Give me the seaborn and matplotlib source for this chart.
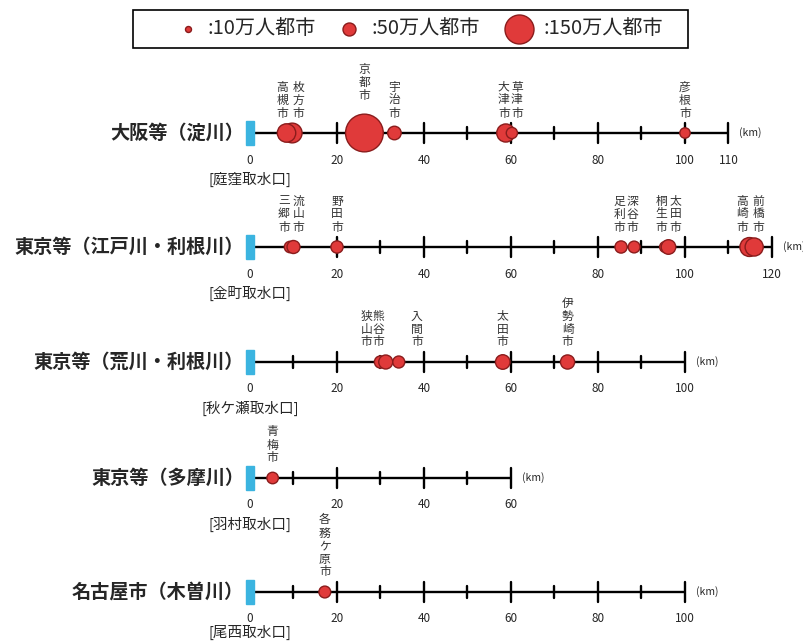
import matplotlib
matplotlib.use('Agg')
import matplotlib.pyplot as plt
from matplotlib.patches import Rectangle
import numpy as np
import pandas as pd
import seaborn as sns

# rivers (one row each)
rivers = ['大阪等（淀川）', '東京等（江戸川・利根川）', '東京等（荒川・利根川）',
          '東京等（多摩川）', '名古屋市（木曽川）']
intakes = ['[庭窪取水口]', '[金町取水口]', '[秋ケ瀬取水口]', '[羽村取水口]', '[尾西取水口]']
river_km = [110, 120, 100, 60, 100]

# cities along each river: river index, name, distance from intake (km), population (万人)
city_river = [0, 0, 0, 0, 0, 0, 0,
              1, 1, 1, 1, 1, 1, 1, 1, 1,
              2, 2, 2, 2, 2,
              3,
              4]
city_name = ['枚方市', '高槻市', '京都市', '宇治市', '大津市', '草津市', '彦根市',
             '三郷市', '流山市', '野田市', '足利市', '深谷市', '桐生市', '太田市', '高崎市', '前橋市',
             '狭山市', '熊谷市', '入間市', '太田市', '伊勢崎市',
             '青梅市',
             '各務ケ原市']
city_km = [9.7, 8.4, 26.3, 33.2, 58.8, 60.2, 100.0,
           9.2, 10.0, 20.0, 85.3, 88.3, 95.4, 96.2, 114.8, 115.9,
           30.0, 31.2, 34.2, 58.1, 73.0,
           5.2,
           17.2]
city_pop = [40.4, 35.2, 147.4, 19.0, 34.0, 13.0, 11.2,
            13.6, 17.4, 15.5, 15.4, 14.4, 12.1, 22.0, 37.1, 34.0,
            15.5, 20.3, 14.9, 22.0, 20.8,
            13.7,
            14.5]
legend_pop = [10, 50, 150]

# ---- layout ----
W, H, DPI = 804, 641, 100
PX_PER_KM = 4.35
X0 = 250                      # pixel of km 0
row_y = [133, 247, 362, 478, 592]
# horizontal nudge of the vertical name labels (px), so neighbours do not collide
label_dx = [6, -4, 0, 0, -2, 5, 0,
            -6, 5, 0, -2, -2, -4, 7, -7, 4,
            -14, -7, 18, 0, 0,
            0,
            0]
# legend key: marker x (px), text x (px), marker diameter (px)
leg_marker_x = [188, 349, 519]
leg_text_x = [208, 372, 544]
leg_diam = [6, 13, 29]

RED = '#E03A3A'
EDGE = '#8A1C1C'
BLUE = '#3BB4E0'

sns.set_theme(style='white')
plt.rcParams['font.family'] = ['Noto Sans CJK JP', 'DejaVu Sans']

df = pd.DataFrame({'river': city_river, 'name': city_name,
                   'km': city_km, 'pop': city_pop})
df['y'] = [row_y[r] for r in df['river']]

fig = plt.figure(figsize=(W / DPI, H / DPI), dpi=DPI)
ax = fig.add_axes([0, 0, 1, 1])
ax.set_xlim(-X0 / PX_PER_KM, (W - X0) / PX_PER_KM)
ax.set_ylim(H, 0)
ax.axis('off')

def km(px):
    return px / PX_PER_KM

def xpx(px):
    return km(px - X0)

for i, (name, L) in enumerate(zip(rivers, river_km)):
    y = row_y[i]
    ax.plot([0, L], [y, y], color='black', lw=1.7, solid_capstyle='butt', zorder=1)
    for k in range(10, L + 1, 10):
        half = 10 if (k % 20 == 0 or k == L) else 6
        ax.plot([k, k], [y - half, y + half], color='black', lw=1.7, zorder=1)
        if k % 20 == 0 or k == L:
            ax.text(k, y + 27, str(k), ha='center', va='center', fontsize=8.5)
    ax.text(0, y + 27, '0', ha='center', va='center', fontsize=8.5)
    # keep the last intake label inside the canvas
    ax.text(0, min(y + 46, H - 9), intakes[i], ha='center', va='center', fontsize=10.5)
    ax.add_patch(Rectangle((km(-4), y - 12), km(8), 24, color=BLUE, zorder=2))
    ax.text(L + km(11), y, '(km)', ha='left', va='center', fontsize=7.5)
    ax.text(km(-6), y, name, ha='right', va='center', fontsize=13.8,
            fontweight='bold')

sns.scatterplot(data=df, x='km', y='y', size='pop', sizes=(0, 750), size_norm=(0, 150),
                color=RED, edgecolor=EDGE, linewidth=1, legend=False, ax=ax, zorder=3)

# vertical city names above the circles
for (_, row), dx in zip(df.iterrows(), label_dx):
    r_px = np.sqrt(row['pop'] * 5) / 2 * DPI / 72
    base = row['y'] - max(20, 2 * r_px)
    for j, ch in enumerate(reversed(row['name'])):
        ax.text(row['km'] + km(dx), base - j * 13, ch, ha='center', va='center',
                fontsize=8.5, color='#333333')

# legend box at the top
ax.add_patch(Rectangle((xpx(133), 10), km(555), 38, fill=False, edgecolor='black',
                       lw=1.2, zorder=4))
for p, mx, tx, d in zip(legend_pop, leg_marker_x, leg_text_x, leg_diam):
    ax.scatter([xpx(mx)], [29], s=(d * 72 / DPI) ** 2, color=RED, edgecolor=EDGE,
               linewidth=1, zorder=5)
    ax.text(xpx(tx), 29, f':{p}万人都市', ha='left', va='center', fontsize=14.5)

fig.savefig('out.png', dpi=DPI)
